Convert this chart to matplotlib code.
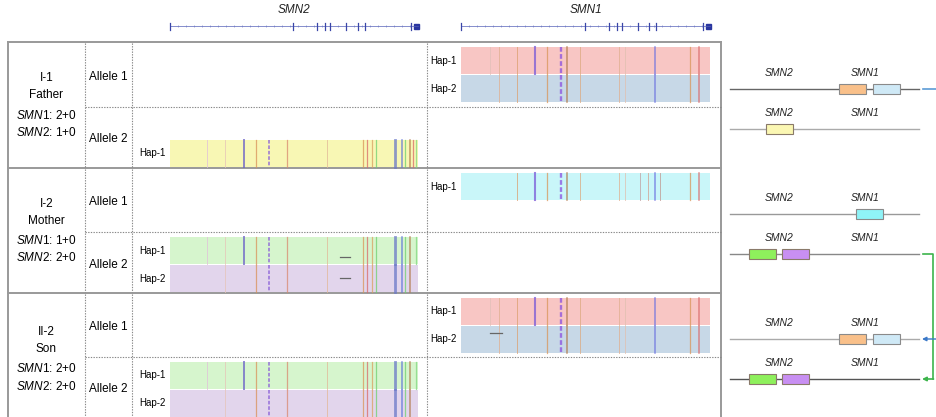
import matplotlib
matplotlib.use('Agg')
import matplotlib.pyplot as plt
from matplotlib.patches import Rectangle

plt.rcParams['font.family'] = ['Liberation Sans', 'DejaVu Sans']
plt.rcParams['mathtext.fontset'] = 'custom'
plt.rcParams['mathtext.rm'] = 'Liberation Sans'
plt.rcParams['mathtext.it'] = 'Liberation Sans:italic'

# Family members
members = ['I-1', 'I-2', 'II-2']
relations = ['Father', 'Mother', 'Son']
smn1_copies = ['2+0', '1+0', '2+0']
smn2_copies = ['1+0', '2+0', '2+0']

# Gene model: relative exon positions along the track
exon_pos = [0.0, 0.496, 0.593, 0.626, 0.645, 0.711, 0.757, 0.785, 0.970, 0.993]

# Variant sites (relative position, colour, width, dashed)
smn2_pos = [0.148, 0.222, 0.298, 0.346, 0.399, 0.47, 0.632, 0.778, 0.794,
            0.813, 0.831, 0.907, 0.934, 0.948, 0.968, 0.98, 0.992]
smn2_col = ['#e0c0d8', '#e6c4b8', '#6a60c8', '#d9925a', '#8a5fd8', '#d98a70',
            '#e2b898', '#d9965a', '#d96a6a', '#d9a060', '#70d070', '#6a78c8',
            '#5a70d8', '#70d070', '#b07848', '#d96a6a', '#80d880']
smn2_lw = [0.7, 0.7, 1.4, 0.9, 1.3, 0.9, 0.7, 0.9, 0.9, 0.9, 0.9, 2.0, 1.1,
           0.9, 1.1, 0.9, 0.9]
smn2_dash = [False, False, False, False, True, False, False, False, False,
             False, False, False, False, False, False, False, False]

smn1_pos = [0.116, 0.153, 0.226, 0.297, 0.344, 0.40, 0.427, 0.478, 0.635,
            0.659, 0.72, 0.75, 0.779, 0.80, 0.92, 0.957]
smn1_col = ['#e2c0b8', '#e0b090', '#dca070', '#7a5ad8', '#d9965a', '#8a50e0',
            '#b07848', '#dcaa80', '#e0b090', '#e0c0b0', '#c0a0a0', '#d0a090',
            '#6a70e0', '#c09890', '#d9965a', '#d96a6a']
smn1_lw = [0.7, 0.7, 0.7, 1.5, 0.9, 1.7, 1.1, 0.7, 0.7, 0.7, 0.7, 0.7, 1.1,
           0.7, 0.9, 1.1]
smn1_dash = [False, False, False, False, False, True, False, False, False,
             False, False, False, False, False, False, False]

# Haplotype blocks
hap_member = [0, 0, 0, 1, 1, 1, 2, 2, 2, 2]
hap_allele = [0, 0, 1, 0, 1, 1, 0, 0, 1, 1]
hap_slot = [0, 1, 1, 0, 0, 1, 0, 1, 0, 1]
hap_gene = ['SMN1', 'SMN1', 'SMN2', 'SMN1', 'SMN2', 'SMN2',
            'SMN1', 'SMN1', 'SMN2', 'SMN2']
hap_name = ['Hap-1', 'Hap-2', 'Hap-1', 'Hap-1', 'Hap-1', 'Hap-2',
            'Hap-1', 'Hap-2', 'Hap-1', 'Hap-2']
hap_color = ['#f8c6c4', '#c7d8e7', '#f8f7b4', '#c9f6f9', '#d6f5cd', '#e2d5ec',
             '#f8c6c4', '#c7d8e7', '#d6f5cd', '#e2d5ec']
hap_sites = [
    [0, 1, 2, 3, 4, 5, 6, 7, 8, 9, 12, 14, 15],
    [1, 2, 4, 5, 6, 7, 8, 9, 12, 14, 15],
    [0, 1, 2, 3, 4, 5, 6, 7, 8, 9, 10, 11, 12, 13, 14, 15, 16],
    [2, 3, 4, 5, 6, 7, 8, 9, 10, 11, 12, 13, 14, 15],
    [0, 1, 2, 3, 4, 5, 6, 7, 8, 9, 10, 11, 12, 13, 14, 16],
    [1, 3, 4, 5, 6, 7, 8, 9, 10, 11, 12, 13, 14],
    [0, 1, 2, 3, 4, 5, 6, 7, 8, 9, 12, 14, 15],
    [1, 2, 4, 5, 6, 7, 8, 9, 12, 14, 15],
    [0, 1, 2, 3, 4, 5, 6, 7, 8, 9, 10, 11, 12, 13, 14, 16],
    [1, 3, 4, 5, 6, 7, 8, 9, 10, 11, 12, 13, 14],
]

# Small deletions seen in some reads: haplotype, start, end, height fraction
del_hap = [4, 5, 7]
del_start = [0.685, 0.685, 0.116]
del_end = [0.726, 0.726, 0.165]
del_frac = [0.75, 0.48, 0.26]

# Copy-number diagrams on the right (one line per allele)
diag_smn2 = [[], ['#fbf7b3'], [], ['#8ef05c', '#c88ff2'], [], ['#8ef05c', '#c88ff2']]
diag_smn1 = [['#f9c08a', '#cfe9f6'], [], ['#8ff3f7'], [], ['#f9c08a', '#cfe9f6'], []]
diag_line_col = ['#666666', '#aaaaaa', '#999999', '#888888', '#aaaaaa', '#555555']

fig = plt.figure(figsize=(9.37, 4.17), dpi=100)
ax = fig.add_axes([0, 0, 1, 1])
ax.set_xlim(0, 937)
ax.set_ylim(417, 0)
ax.axis('off')

row_edges = [42, 168, 293, 425]
cell_edges = [[42, 107], [107, 168], [168, 232], [232, 293], [293, 357], [357, 417]]
x_left, x_c1, x_c2, x_mid, x_right = 8, 85, 132, 427, 721
tracks = {'SMN2': (170, 418), 'SMN1': (461, 710)}
label_x = {'SMN2': 152, 'SMN1': 443}

# Gene tracks at the top
for gene, (x0, x1) in tracks.items():
    ax.text((x0 + x1) / 2, 10, gene, ha='center', va='center', fontsize=8.5,
            style='italic', color='#222222')
    ax.plot([x0, x1], [26, 26], color='#5560b8', lw=0.5)
    n = int((x1 - x0) / 8)
    ax.plot([x0 + i * (x1 - x0) / n for i in range(1, n)], [26] * (n - 1),
            ls='none', marker='|', ms=2, mew=0.4, color='#6a74c0')
    for p in exon_pos[:-1]:
        ax.plot([x0 + p * (x1 - x0)] * 2, [22.5, 29.5], color='#3a46a8', lw=0.9)
    ax.add_patch(Rectangle((x1 - 4, 23.5), 5, 5, color='#2a36a0'))

# Table frame
ax.plot([x_left, x_right], [42, 42], color='#999999', lw=1.4)
ax.plot([x_left, x_left], [42, 417], color='#999999', lw=1.4)
ax.plot([x_right, x_right], [42, 417], color='#999999', lw=1.4)
for y in row_edges[1:3]:
    ax.plot([x_left, x_right], [y, y], color='#999999', lw=1.4)
for top, bot in [(42, 168), (168, 293), (293, 417)]:
    for x in (x_c1, x_c2, x_mid):
        ax.plot([x, x], [top + 1, bot - 1], color='#888888', lw=0.8, ls=(0, (1.2, 1.2)))
for y in (107, 232, 357):
    ax.plot([x_c1, x_right], [y, y], color='#888888', lw=0.8, ls=(0, (1.2, 1.2)))

# Family labels
for i in range(3):
    yc = (row_edges[i] + row_edges[i + 1]) / 2
    xc = (x_left + x_c1) / 2
    ax.text(xc, yc - 27, members[i], ha='center', va='center', fontsize=8.5)
    ax.text(xc, yc - 10, relations[i], ha='center', va='center', fontsize=8.5)
    ax.text(xc, yc + 10, r'$\mathit{SMN1}$: ' + smn1_copies[i], ha='center',
            va='center', fontsize=8.5)
    ax.text(xc, yc + 27, r'$\mathit{SMN2}$: ' + smn2_copies[i], ha='center',
            va='center', fontsize=8.5)

for k, (top, bot) in enumerate(cell_edges):
    ax.text((x_c1 + x_c2) / 2, (top + bot) / 2 + 2, 'Allele %d' % (k % 2 + 1),
            ha='center', va='center', fontsize=8.5)

# Haplotype blocks
block_y = []
for h in range(len(hap_name)):
    top = cell_edges[hap_member[h] * 2 + hap_allele[h]][0]
    y0 = top + 5 + hap_slot[h] * 28
    y1 = y0 + 27
    block_y.append((y0, y1))
    x0, x1 = tracks[hap_gene[h]]
    ax.add_patch(Rectangle((x0, y0), x1 - x0, y1 - y0, color=hap_color[h], lw=0))
    if hap_gene[h] == 'SMN2':
        pos, col, lw, dash = smn2_pos, smn2_col, smn2_lw, smn2_dash
    else:
        pos, col, lw, dash = smn1_pos, smn1_col, smn1_lw, smn1_dash
    for s in hap_sites[h]:
        ax.plot([x0 + pos[s] * (x1 - x0)] * 2, [y0, y1], color=col[s], lw=lw[s],
                alpha=0.75, ls=(0, (2, 1)) if dash[s] else '-')
    ax.text(label_x[hap_gene[h]], (y0 + y1) / 2, hap_name[h], ha='center',
            va='center', fontsize=7)

for h, a, b, f in zip(del_hap, del_start, del_end, del_frac):
    x0, x1 = tracks[hap_gene[h]]
    y0, y1 = block_y[h]
    ax.plot([x0 + a * (x1 - x0), x0 + b * (x1 - x0)], [y0 + f * (y1 - y0)] * 2,
            color='#666666', lw=0.9)

# Right-hand copy-number diagrams
line_y = [89, 129, 214, 254, 339, 379]
for k in range(6):
    y = line_y[k]
    ax.plot([730, 919], [y, y], color=diag_line_col[k], lw=1.0, zorder=1)
    ax.text(779, y - 16, 'SMN2', ha='center', va='center', fontsize=7.5,
            style='italic', color='#222222')
    ax.text(865, y - 16, 'SMN1', ha='center', va='center', fontsize=7.5,
            style='italic', color='#222222')
    n2 = len(diag_smn2[k])
    for j, c in enumerate(diag_smn2[k]):
        cx = 779.5 + (j - (n2 - 1) / 2) * 33
        ax.add_patch(Rectangle((cx - 13.5, y - 5), 27, 10, fc=c, ec='#8a7a6a',
                               lw=0.8, zorder=2))
    n1 = len(diag_smn1[k])
    for j, c in enumerate(diag_smn1[k]):
        cx = 869.5 + (j - (n1 - 1) / 2) * 34
        ax.add_patch(Rectangle((cx - 13.5, y - 5), 27, 10, fc=c, ec='#8a8a8a',
                               lw=0.8, zorder=2))

# Inheritance arrows
ax.plot([923, 938], [line_y[0]] * 2, color='#5b9bd5', lw=1.2)
ax.annotate('', xy=(922, line_y[4]), xytext=(937, line_y[4]),
            arrowprops=dict(arrowstyle='-|>', color='#3a78c8', lw=1.0,
                            mutation_scale=6, shrinkA=0, shrinkB=0))
ax.plot([923, 933, 933], [line_y[3], line_y[3], line_y[5]], color='#3cb44b', lw=1.2)
ax.annotate('', xy=(922, line_y[5]), xytext=(933.5, line_y[5]),
            arrowprops=dict(arrowstyle='-|>', color='#3cb44b', lw=1.2,
                            mutation_scale=6, shrinkA=0, shrinkB=0))

fig.savefig('out.png', dpi=100)
